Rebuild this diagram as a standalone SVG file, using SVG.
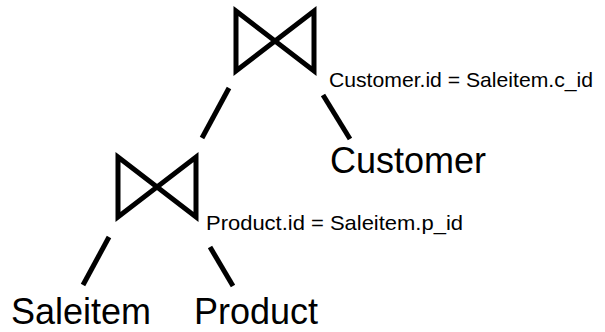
<svg xmlns="http://www.w3.org/2000/svg" width="605" height="332" viewBox="0 0 605 332">
  <style>
    .join { fill: none; stroke: #000; stroke-width: 5; stroke-linejoin: miter; }
    .edge { stroke: #000; stroke-width: 5; }
    .rel { font-family: "Liberation Sans", Arial, sans-serif; font-size: 36px; fill: #000; }
    .cond { font-family: "Liberation Sans", Arial, sans-serif; font-size: 21px; fill: #000; }
  </style>
  <rect width="605" height="332" fill="#fff"/>

  <g id="connectors">
    <line class="edge" x1="229" y1="88" x2="202" y2="138"/>
    <line class="edge" x1="323" y1="95" x2="350" y2="139"/>
    <line class="edge" x1="109" y1="237" x2="83" y2="285"/>
    <line class="edge" x1="210" y1="247" x2="233" y2="286"/>
  </g>

  <g id="join-customer">
    <polygon class="join" points="236,11 314,71 314,11 236,71"/>
    <text class="cond" x="329" y="87" textLength="264" lengthAdjust="spacingAndGlyphs">Customer.id = Saleitem.c_id</text>
  </g>

  <g id="join-product">
    <polygon class="join" points="118,157 196,217 196,157 118,217"/>
    <text class="cond" x="206" y="230" textLength="257" lengthAdjust="spacingAndGlyphs">Product.id = Saleitem.p_id</text>
  </g>

  <g id="customer">
    <text class="rel" x="330" y="173">Customer</text>
  </g>

  <g id="saleitem">
    <text class="rel" x="11" y="324">Saleitem</text>
  </g>

  <g id="product">
    <text class="rel" x="194" y="324">Product</text>
  </g>
</svg>
